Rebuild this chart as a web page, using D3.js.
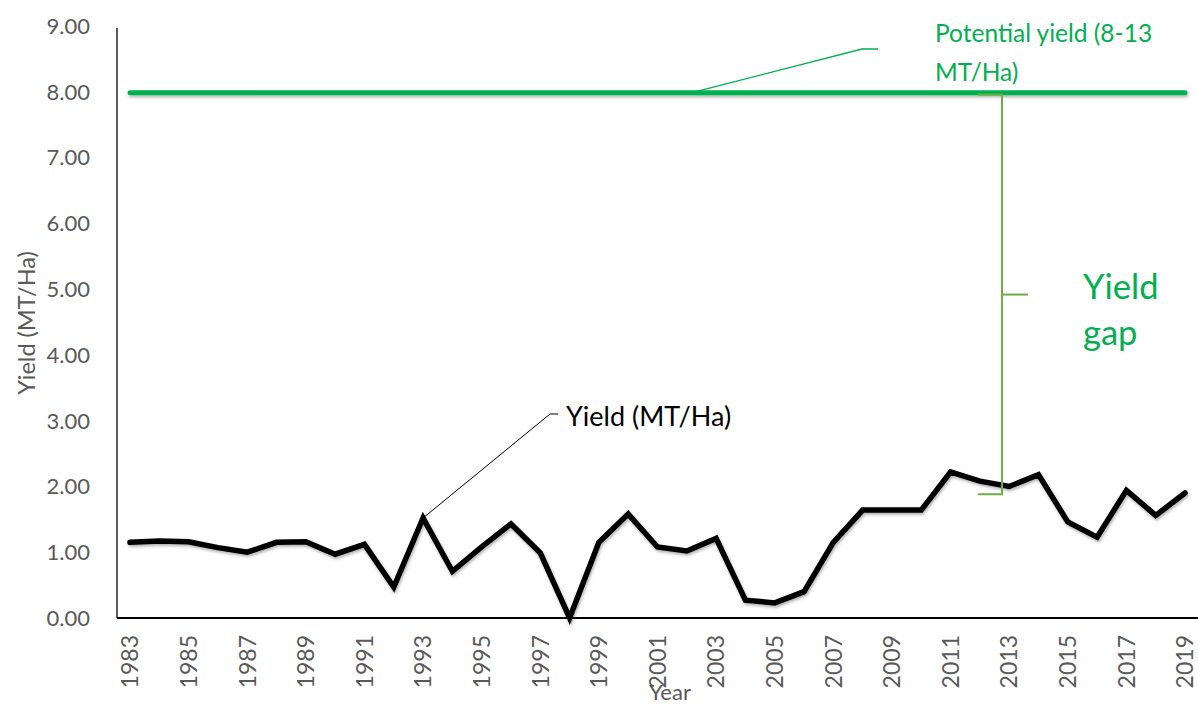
<!DOCTYPE html>
<html>
<head>
<meta charset="utf-8">
<script src="https://cdn.jsdelivr.net/npm/d3@7"></script>
<style>
  body { margin: 0; background: #fff; }
  text { font-family: Lato, "Open Sans", sans-serif; }
</style>
</head>
<body>
<div id="chart"></div>
<script>
// data
var years = d3.range(1983, 2020);
var yieldValues = [1.15, 1.17, 1.16, 1.07, 1.00, 1.15, 1.16, 0.97, 1.12, 0.47,
                   1.52, 0.71, 1.08, 1.43, 0.99, 0.00, 1.15, 1.58, 1.08, 1.02,
                   1.21, 0.27, 0.23, 0.40, 1.15, 1.64, 1.64, 1.64, 2.22, 2.08,
                   2.00, 2.18, 1.46, 1.23, 1.94, 1.56, 1.90];
var potentialYield = 8;
var yTicks = [0, 1, 2, 3, 4, 5, 6, 7, 8, 9];
var xTickYears = years.filter(function(d){ return d % 2 === 1; });

var width = 1198, height = 705;
var plotLeft = 117, plotTop = 26, plotBottom = 618, plotRight = 1198;

var svg = d3.select("#chart")
  .append("svg")
    .attr("width", width)
    .attr("height", height);

// soft shadow like the office chart lines
// (user space units so the flat horizontal line still gets drawn)
var defs = svg.append("defs");
var f = defs.append("filter").attr("id", "shadow")
  .attr("filterUnits", "userSpaceOnUse")
  .attr("x", 0).attr("y", 0).attr("width", width).attr("height", height);
f.append("feDropShadow")
  .attr("dx", 1).attr("dy", 2).attr("stdDeviation", 1.5)
  .attr("flood-color", "#000").attr("flood-opacity", 0.3);

var x = d3.scalePoint()
  .domain(years)
  .range([130, 1185]);

var y = d3.scaleLinear()
  .domain([0, 9])
  .range([plotBottom, plotTop]);

// y axis labels
svg.append("g")
  .selectAll("text")
  .data(yTicks)
  .join("text")
    .attr("x", 90)
    .attr("y", function(d){ return y(d); })
    .attr("dy", "0.36em")
    .attr("text-anchor", "end")
    .attr("fill", "#595959")
    .style("font-size", "22px")
    .text(function(d){ return d.toFixed(2); });

// y axis line
svg.append("line")
  .attr("x1", plotLeft).attr("x2", plotLeft)
  .attr("y1", y(9) + 2).attr("y2", plotBottom)
  .attr("stroke", "#262626").attr("stroke-width", 1.5);

// x tick labels, rotated
svg.append("g")
  .selectAll("text")
  .data(xTickYears)
  .join("text")
    .attr("transform", function(d){ return "translate(" + x(d) + "," + 635 + ") rotate(-90)"; })
    .attr("dy", "0.36em")
    .attr("text-anchor", "end")
    .attr("fill", "#595959")
    .style("font-size", "23px")
    .text(function(d){ return d; });

// axis titles
svg.append("text")
  .attr("transform", "translate(35," + 323 + ") rotate(-90)")
  .attr("text-anchor", "middle")
  .attr("fill", "#595959")
  .style("font-size", "23.5px")
  .text("Yield (MT/Ha)");

svg.append("text")
  .attr("x", 670).attr("y", 700)
  .attr("text-anchor", "middle")
  .attr("fill", "#595959")
  .style("font-size", "22px")
  .text("Year");

// potential yield line
svg.append("line")
  .attr("x1", x(1983)).attr("x2", x(2019))
  .attr("y1", y(potentialYield) + 1).attr("y2", y(potentialYield) + 1)
  .attr("stroke", "#00B050")
  .attr("stroke-width", 5)
  .attr("stroke-linecap", "round")
  .attr("filter", "url(#shadow)");

// yield series
svg.append("path")
  .datum(yieldValues)
  .attr("fill", "none")
  .attr("stroke", "#000")
  .attr("stroke-width", 5.5)
  .attr("stroke-linejoin", "miter")
  .attr("stroke-linecap", "round")
  .attr("filter", "url(#shadow)")
  .attr("d", d3.line()
    .x(function(d, i){ return x(years[i]); })
    .y(function(d){ return y(d); })
  );

// x axis line
svg.append("line")
  .attr("x1", plotLeft).attr("x2", plotRight)
  .attr("y1", plotBottom).attr("y2", plotBottom)
  .attr("stroke", "#000").attr("stroke-width", 2);

// callout: yield series
var i93 = years.indexOf(1993);
var px = x(1993), py = y(yieldValues[i93]);
svg.append("polyline")
  .attr("points", [[px, py], [550, 414], [558, 414]].map(String).join(" "))
  .attr("fill", "none").attr("stroke", "#000").attr("stroke-width", 1);
svg.append("text")
  .attr("x", 566).attr("y", 426)
  .attr("fill", "#000")
  .style("font-size", "27px")
  .text("Yield (MT/Ha)");

// callout: potential yield
var gx = x(2002) + 8, gy = y(potentialYield);
svg.append("polyline")
  .attr("points", [[gx, gy], [862, 49], [878, 49]].map(String).join(" "))
  .attr("fill", "none").attr("stroke", "#00B050").attr("stroke-width", 1.3);
var pt = svg.append("text")
  .attr("fill", "#00B050")
  .style("font-size", "24.5px");
pt.append("tspan").attr("x", 935).attr("y", 42).text("Potential yield (8-13");
pt.append("tspan").attr("x", 935).attr("y", 81).text("MT/Ha)");

// yield gap bracket
var bx = 1002, bTop = y(potentialYield) + 3, bBot = y(1.88);
var bMid = (bTop + bBot) / 2;
var br = svg.append("g")
  .attr("fill", "none").attr("stroke", "#70AD47").attr("stroke-width", 2);
br.append("path")
  .attr("d", "M" + (bx - 24) + "," + bTop + "H" + bx + "V" + bBot + "H" + (bx - 24));
br.append("path")
  .attr("d", "M" + bx + "," + bMid + "H" + (bx + 26));

var gt = svg.append("text")
  .attr("fill", "#00B050")
  .style("font-size", "34.5px");
gt.append("tspan").attr("x", 1083).attr("y", 299).text("Yield");
gt.append("tspan").attr("x", 1083).attr("y", 345).text("gap");
</script>
</body>
</html>
